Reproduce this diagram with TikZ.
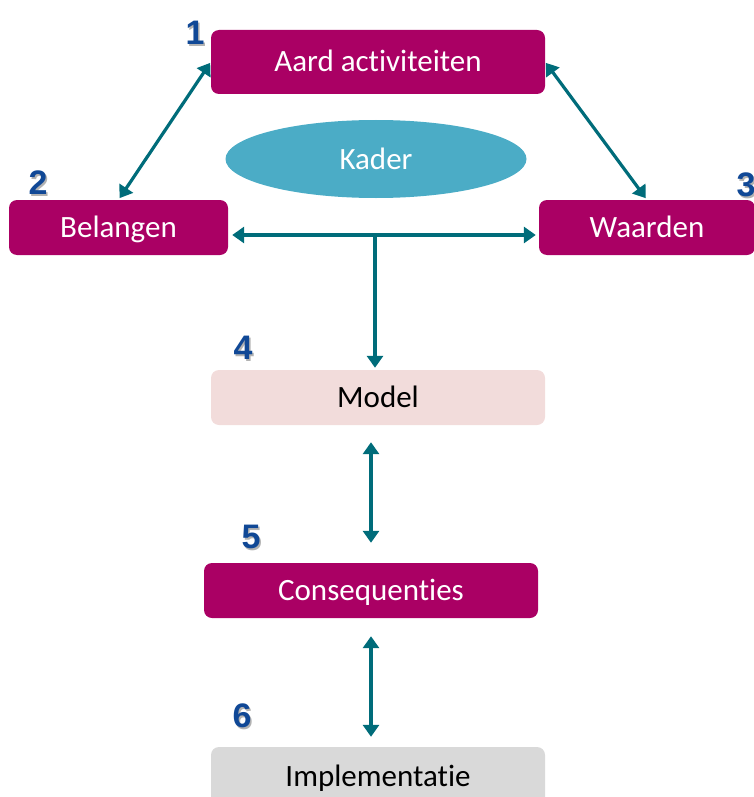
\documentclass[tikz,border=0pt]{standalone}
\usepackage{fontspec}
\setmainfont[Ligatures=NoCommon]{Carlito}
\newfontfamily\numfont{Liberation Sans}
\usetikzlibrary{shapes.geometric,arrows.meta,calc}
\definecolor{magentabox}{RGB}{170,0,100}
\definecolor{modelfill}{RGB}{242,220,219}
\definecolor{implfill}{RGB}{217,217,217}
\definecolor{kaderfill}{RGB}{75,172,198}
\definecolor{numblue}{RGB}{16,72,150}
\definecolor{teal}{RGB}{0,108,122}
\tikzset{
  boxfont/.style={font=\fontsize{31}{36}\selectfont, text height=20pt, text depth=0pt},
  box/.style={rectangle, rounded corners=8pt, minimum height=55pt, inner sep=0pt, boxfont},
  magbox/.style={box, fill=magentabox, text=white},
  conn/.style={draw=teal, line width=3.2pt, {Triangle[width=16pt,length=12pt]}-{Triangle[width=16pt,length=12pt]}},
  oneway/.style={draw=teal, line width=3.2pt, -{Triangle[width=16pt,length=12pt]}},
  num/.style={font=\numfont\bfseries\fontsize{34}{36}\selectfont, text=numblue, inner sep=0pt},
  numshadow/.style={font=\numfont\bfseries\fontsize{34}{36}\selectfont, text=black!30, inner sep=0pt}
}
\begin{document}
\begin{tikzpicture}[x=1pt,y=-1pt]
\useasboundingbox (0,0) rectangle (754,797);
\clip (0,0) rectangle (754,797);
% boxes
\node[magbox, minimum width=334pt, minimum height=64pt] (aard) at (378,62) {Aard activiteiten};
\node[ellipse, fill=kaderfill, text=white, minimum width=301pt, minimum height=78pt, inner sep=0pt, boxfont] (kader) at (376,159) {Kader};
\node[magbox, minimum width=219pt] (belangen) at (118.5,227.5) {Belangen};
\node[magbox, minimum width=216pt] (waarden) at (647,227.5) {Waarden};
\node[box, fill=modelfill, text=black, minimum width=334pt] (model) at (378,397.5) {Model};
\node[magbox, minimum width=334pt] (cons) at (371,590.5) {Consequenties};
\node[box, fill=implfill, text=black, minimum width=334pt, minimum height=58pt] (impl) at (378,776) {Implementatie};
% numbers
\foreach \n/\x/\y in {1/195/33, 2/38/183, 3/746/185, 4/243/348, 5/251/537, 6/242/716}{
  \node[numshadow] (s\n) at (\x+1.5,\y+1.5) {\n};
  \node[num] (n\n) at (\x,\y) {\n};
}
% connectors
\coordinate (hub) at (375,235);
\draw[conn, shorten <=1pt, shorten >=2pt] (aard.west) -- (belangen.north);
\draw[conn, shorten <=1pt, shorten >=2pt] (aard.east) -- (waarden.north);
\draw[conn, shorten <=4pt, shorten >=3pt] (belangen.east |- hub) -- (waarden.west |- hub);
\draw[oneway, shorten >=2pt] (hub) -- (hub |- model.north);
\draw[conn, shorten <=17pt, shorten >=20pt] (cons.north |- model.south) -- (cons.north);
\draw[conn, shorten <=18pt, shorten >=10pt] (cons.south) -- (cons.south |- impl.north);
\end{tikzpicture}
\end{document}
